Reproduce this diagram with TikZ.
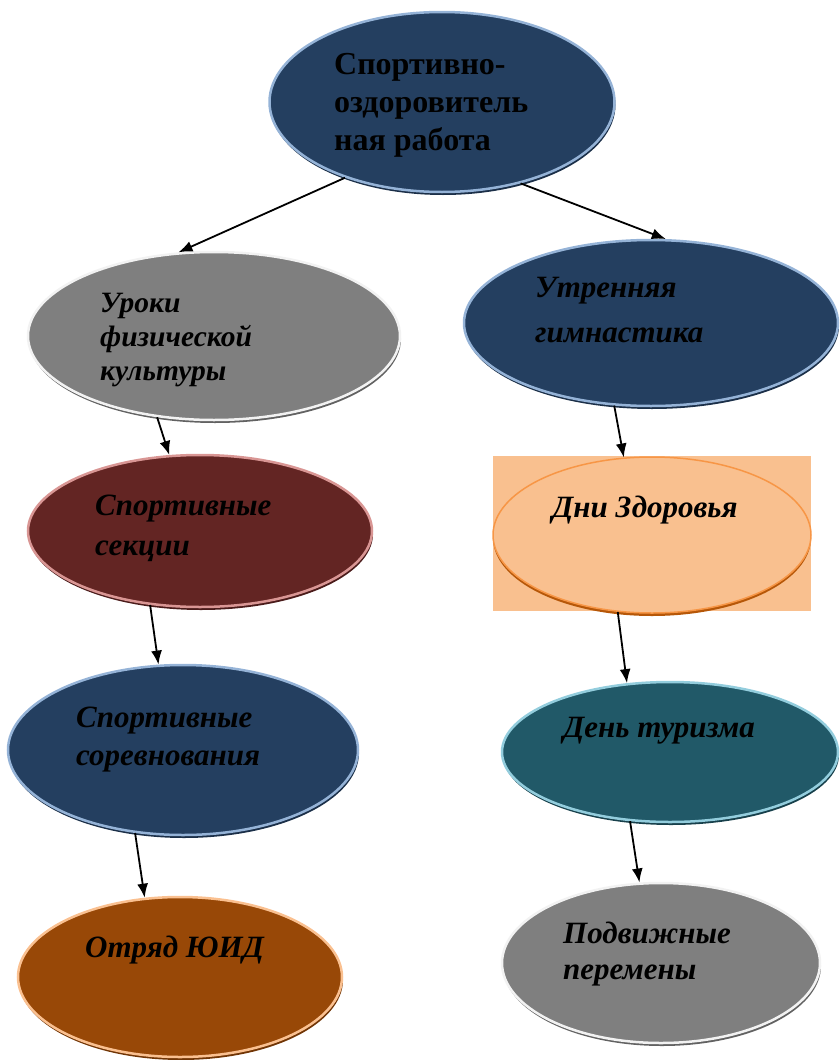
\documentclass[tikz,border=0pt]{standalone}
\usepackage{fontspec}
\setmainfont{Liberation Serif}
\usetikzlibrary{shapes}
\usetikzlibrary{shadows}
\usetikzlibrary{arrows.meta}
\definecolor{navyfill}{HTML}{243F60}
\definecolor{navyline}{HTML}{95B3D7}
\definecolor{navyshadow}{HTML}{1B2F48}
\definecolor{grayfill}{HTML}{7F7F7F}
\definecolor{grayline}{HTML}{F2F2F2}
\definecolor{grayshadow}{HTML}{626262}
\definecolor{redfill}{HTML}{632523}
\definecolor{redline}{HTML}{D99694}
\definecolor{redshadow}{HTML}{4A1B1A}
\definecolor{dnifill}{HTML}{F9C08F}
\definecolor{dniline}{HTML}{F79646}
\definecolor{dnishadow}{HTML}{B65708}
\definecolor{tealfill}{HTML}{215968}
\definecolor{tealline}{HTML}{93CDDD}
\definecolor{tealshadow}{HTML}{17404B}
\definecolor{brownfill}{HTML}{984807}
\definecolor{brownline}{HTML}{FAC090}
\definecolor{brownshadow}{HTML}{713505}
\tikzset{
    oval/.style = {ellipse, inner sep=0pt, line width=2.5pt},
    ovalnavy/.style = {oval, fill=navyfill, draw=navyline, general shadow={fill=navyshadow, shadow xshift=1pt, shadow yshift=-3pt}},
    ovalgray/.style = {oval, fill=grayfill, draw=grayline, general shadow={fill=grayshadow, shadow xshift=1pt, shadow yshift=-3pt}},
    ovalred/.style = {oval, fill=redfill, draw=redline, general shadow={fill=redshadow, shadow xshift=1pt, shadow yshift=-3pt}},
    ovaldni/.style = {oval, line width=1.5pt, fill=dnifill, draw=dniline, general shadow={fill=dnishadow, shadow xshift=0pt, shadow yshift=-3pt}},
    ovalteal/.style = {oval, fill=tealfill, draw=tealline, general shadow={fill=tealshadow, shadow xshift=1pt, shadow yshift=-3pt}},
    ovalbrown/.style = {oval, fill=brownfill, draw=brownline, general shadow={fill=brownshadow, shadow xshift=1pt, shadow yshift=-3pt}},
    toptxt/.style = {anchor=north west, inner sep=0pt, align=left, font=\bfseries\fontsize{32}{38}\selectfont},
    itxt/.style = {anchor=north west, inner sep=0pt, align=left, font=\bfseries\itshape\fontsize{31}{#1}\selectfont},
    itxt/.default = 34,
    edgen/.style = {-{Latex[length=14pt,width=11pt]}, line width=1.8pt, black}
}
\begin{document}
\begin{tikzpicture}[x=1pt, y=-1pt]
  \useasboundingbox (0,0) rectangle (839,1060);

  % background box behind Dni Zdorovya
  \fill[dnifill] (493,456) rectangle (811,611);

  % ovals
  \node[ovalnavy, minimum width=345pt, minimum height=180pt] (main) at (442,102) {};
  \node[ovalgray, minimum width=372pt, minimum height=168pt] (uroki) at (214,336) {};
  \node[ovalnavy, minimum width=374pt, minimum height=166pt] (utro) at (651,323) {};
  \node[ovalred, minimum width=344pt, minimum height=152pt] (sekcii) at (200,531) {};
  \node[ovaldni, minimum width=318pt, minimum height=156pt] (dni) at (652,535) {};
  \node[ovalnavy, minimum width=350pt, minimum height=170pt] (sorevn) at (183,750) {};
  \node[ovalteal, minimum width=336pt, minimum height=140pt] (turizm) at (670,752) {};
  \node[ovalbrown, minimum width=324pt, minimum height=160pt] (yuid) at (180,977) {};
  \node[ovalgray, minimum width=318pt, minimum height=160pt] (peremeny) at (661,963) {};

  % texts
  \node[toptxt] (maintxt) at (334,53) {Спортивно-\\оздоровитель\\ная работа};
  \node[itxt, font=\bfseries\itshape\fontsize{29.5}{34}\selectfont] (urokitxt) at (100,293) {Уроки\\физической\\культуры};
  \node[itxt=45] (utrotxt) at (535,277) {Утренняя\\гимнастика};
  \node[itxt=40] (sekciitxt) at (95,495) {Спортивные\\секции};
  \node[itxt] (dnitxt) at (552,496) {Дни Здоровья};
  \node[itxt=38] (sorevntxt) at (76,707) {Спортивные\\соревнования};
  \node[itxt] (turizmtxt) at (563,717) {День туризма};
  \node[itxt] (yuidtxt) at (85,936) {Отряд ЮИД};
  \node[itxt=36] (peremenytxt) at (563,922) {Подвижные\\перемены};

  % arrows
  \draw[edgen] (main.218) -- (uroki.113);
  \draw[edgen] (main.314) -- (utro.80);
  \draw[edgen] (uroki.235) -- (sekcii.112);
  \draw[edgen] (utro.246) -- (dni.110);
  \draw[edgen] (sekcii.236) -- (sorevn.106);
  \draw[edgen] (dni.246) -- (turizm.122);
  \draw[edgen] (sorevn.240) -- (yuid.114);
  \draw[edgen] (turizm.240) -- (peremeny.105);
\end{tikzpicture}
\end{document}
